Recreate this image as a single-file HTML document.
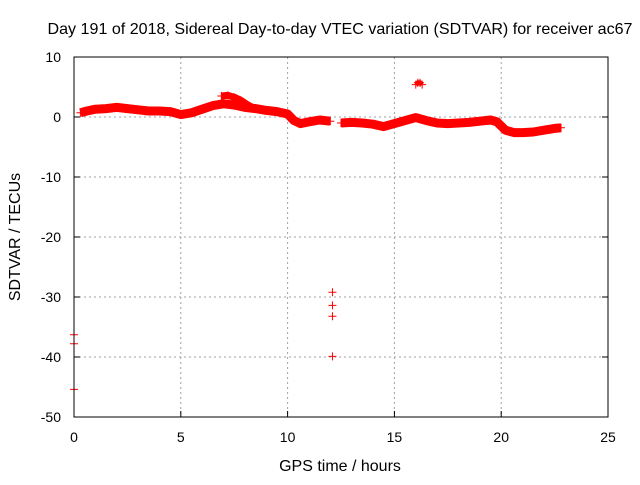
<!DOCTYPE html>
<html><head><meta charset="utf-8"><style>
body{margin:0;background:#fff;width:640px;height:480px;overflow:hidden}
svg text{font-family:"Liberation Sans",sans-serif;font-size:14px;fill:#000}
svg text.big{font-size:16px}
</style></head><body>
<svg id="chart" width="640" height="480" xmlns="http://www.w3.org/2000/svg">
<text class="big" x="340" y="34" text-anchor="middle" textLength="585" lengthAdjust="spacingAndGlyphs">Day 191 of 2018, Sidereal Day-to-day VTEC variation (SDTVAR) for receiver ac67</text>
<text class="big" x="340" y="471" text-anchor="middle">GPS time / hours</text>
<text class="big" transform="translate(20,237) rotate(-90)" text-anchor="middle">SDTVAR / TECUs</text>
<g id="grid"></g><g id="marks"></g>
<rect x="74" y="57" width="534" height="360" fill="none" stroke="#000" stroke-width="1"/>
</svg>
<script>
const xTicks=[0,5,10,15,20,25];
const yTicks=[10,0,-10,-20,-30,-40,-50];
const mainHours=[0.3,0.6,1,1.5,2,2.5,3,3.5,4,4.5,5,5.5,6,6.5,7,7.5,8,8.5,9,9.5,10,10.3,10.6,11,11.5,12];
const mainValues=[0.7,1.0,1.3,1.4,1.6,1.4,1.2,1.0,1.0,0.9,0.4,0.7,1.3,1.9,2.2,2.0,1.6,1.4,1.1,0.9,0.5,-0.6,-1.1,-0.8,-0.5,-0.7];
const main2Hours=[12.5,13,13.5,14,14.5,15,15.5,16,16.5,17,17.5,18,18.5,19,19.5,19.8,20.2,20.6,21,21.5,22,22.5,22.8];
const main2Values=[-1.0,-0.9,-1.0,-1.2,-1.6,-1.1,-0.6,-0.1,-0.6,-1.0,-1.1,-1.0,-0.9,-0.7,-0.5,-0.8,-2.2,-2.6,-2.6,-2.5,-2.2,-1.9,-1.8];
const arcHours=[6.9,7.2,7.5,7.8,8.1,8.4];
const arcValues=[3.5,3.6,3.3,2.8,2.1,1.5];
const blobHours=[16.0,16.1,16.2,16.3];
const blobValues=[5.4,5.7,5.7,5.4];
const outlierHours=[0,0,0,12.1,12.1,12.1,12.1];
const outlierValues=[-36.3,-37.8,-45.4,-29.2,-31.4,-33.2,-39.9];
const X=h=>74+h*534/25, Y=v=>117-v*6;
const NS="http://www.w3.org/2000/svg";
const grid=document.getElementById('grid'), marks=document.getElementById('marks');
function mk(p,tag,a){const e=document.createElementNS(NS,tag);for(const k in a)e.setAttribute(k,a[k]);p.appendChild(e);return e;}
xTicks.forEach(t=>{
 if(t>0&&t<25){const g=mk(grid,'line',{x1:X(t),x2:X(t),y1:57,y2:417,stroke:'#a0a0a0','stroke-dasharray':'2,3'});
 
 }
 const tk=mk(grid,'line',{x1:X(t),x2:X(t),y1:417,y2:411,stroke:'#000'});
 
 
 const l=mk(grid,'text',{x:X(t),y:442,'text-anchor':'middle'});l.textContent=t;
 
 
});
yTicks.forEach(t=>{
 if(t<10&&t>-50){const g=mk(grid,'line',{x1:74,x2:608,y1:Y(t),y2:Y(t),stroke:'#a0a0a0','stroke-dasharray':'2,3'});
 
 }
 const tk=mk(grid,'line',{x1:74,x2:80,y1:Y(t),y2:Y(t),stroke:'#000'});
 
 
 const tk2=mk(grid,'line',{x1:602,x2:608,y1:Y(t),y2:Y(t),stroke:'#000'});
 
 
 const l=mk(grid,'text',{x:61,y:Y(t)+5,'text-anchor':'end'});l.textContent=t;
 
 
});
function band(hs,vs,w,name){
 const pl=mk(marks,'polyline',{points:hs.map((h,i)=>X(h)+','+Y(vs[i])).join(' '),fill:'none',stroke:'#f00','stroke-width':w,'stroke-linejoin':'round'});
 
 
 hs.forEach((h,i)=>plus(h,vs[i],name+'-point'));
}
function plus(h,v,name){
 const x=X(h),y=Y(v);
 const p=mk(marks,'path',{d:`M${x-4},${y}H${x+4}M${x},${y-4}V${y+4}`,stroke:'#f00','stroke-width':1});
 
 
}
band(mainHours,mainValues,9,'sdtvar-series-a');
band(main2Hours,main2Values,9,'sdtvar-series-b');
band(arcHours,arcValues,7,'sdtvar-arc');
band(blobHours,blobValues,5,'sdtvar-blob');
outlierHours.forEach((h,i)=>plus(h,outlierValues[i],'outlier-point'));
</script>
</body></html>
